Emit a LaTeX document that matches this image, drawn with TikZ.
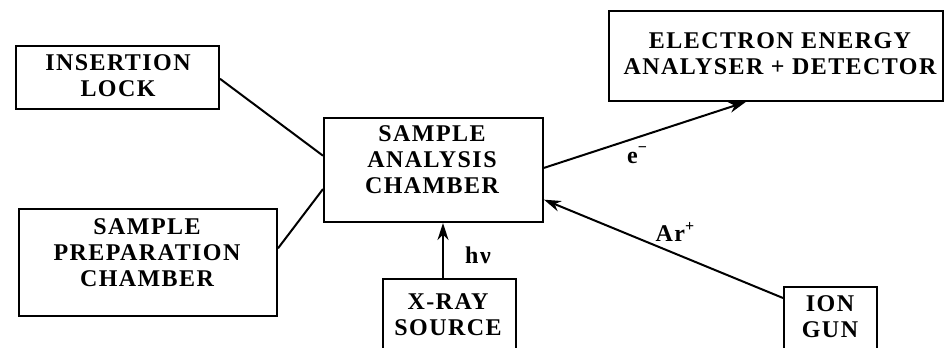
\documentclass[tikz,border=0pt]{standalone}
\usepackage{fontspec}
\setmainfont{Liberation Serif}[LetterSpace=6]
\usetikzlibrary{arrows.meta,calc}
\begin{document}
\begin{tikzpicture}[x=1pt,y=-1pt,
  box/.style={draw,line width=2pt,inner sep=0pt,anchor=north west},
  lbl/.style={font=\fontsize{24}{26}\selectfont\bfseries,align=center,inner sep=0pt},
  link/.style={line width=2pt},
  beam/.style={line width=2pt,-{Stealth[length=17pt,width=11pt]}},
  sym/.style={font=\fontsize{24}{26}\selectfont\bfseries,inner sep=0pt}]
\useasboundingbox (0,0) rectangle (946,348);
\clip (0,0) rectangle (946,348);

% boxes
\node[box,minimum width=203pt,minimum height=63pt] (ins) at (15,45) {};
\node[box,minimum width=258pt,minimum height=107pt] (prep) at (18,208) {};
\node[box,minimum width=219pt,minimum height=104pt] (ana) at (323,117) {};
\node[box,minimum width=133pt,minimum height=100pt] (xray) at (382,278) {};
\node[box,minimum width=93pt,minimum height=90pt] (ion) at (783,286) {};
\node[box,minimum width=334pt,minimum height=90pt] (elec) at (608,10) {};

% box texts
\node[lbl] (insT) at (118,76) {INSERTION\\LOCK};
\node[lbl] (prepT) at (147,253) {SAMPLE\\PREPARATION\\CHAMBER};
\node[lbl] (anaT) at (432,160) {SAMPLE\\ANALYSIS\\CHAMBER};
\node[lbl] (xrayT) at (448,315) {X-RAY\\SOURCE};
\node[lbl] (ionT) at (830,317) {ION\\GUN};
\node[lbl] (elecT) at (780,54) {ELECTRON ENERGY\\ANALYSER + DETECTOR};

% connecting lines
\draw[link] ($(ins.north east)!0.52!(ins.south east)$) -- ($(ana.north west)!0.365!(ana.south west)$);
\draw[link] ($(prep.north east)!0.37!(prep.south east)$) -- ($(ana.north west)!0.68!(ana.south west)$);

% beams
\draw[beam] ($(ana.north east)!0.48!(ana.south east)$) -- ($(elec.south west)!0.41!(elec.south east)$);
\draw[beam] ($(ion.north west)+(0,12)$) -- ($(ana.north east)!0.78!(ana.south east)$);
\draw[beam] (xray.north -| 443,0) -- (ana.south -| 443,0);

% beam labels
\node[sym] (eL) at (637,155) {e\raisebox{0.45em}{\fontsize{16}{16}\selectfont −}};
\node[sym] (arL) at (675,232) {Ar\raisebox{0.45em}{\fontsize{16}{16}\selectfont +}};
\node[sym] (hvL) at (478,255) {hν};
\end{tikzpicture}
\end{document}
